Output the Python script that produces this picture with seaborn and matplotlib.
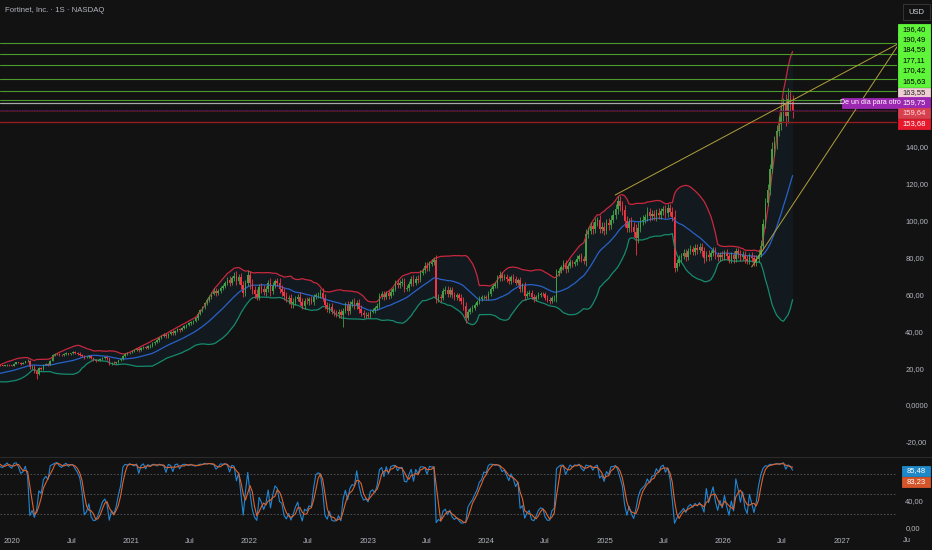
import matplotlib
matplotlib.use("Agg")
import matplotlib.pyplot as plt
import matplotlib.patches as mpatches
import numpy as np
import pandas as pd
import seaborn as sns

# ---- data: weekly closes (USD), weeks starting Monday 2019-04-01 ----
closes_2019 = [17.2, 17.6, 17.9, 18.3, 17.4, 15.8, 15.4, 15.0, 14.9, 15.2,
               15.5, 15.9, 15.4, 15.6, 15.8, 16.0, 16.3, 16.2, 15.8, 15.9,
               16.1, 15.8, 15.6, 15.7, 15.4, 15.3, 15.2, 15.5, 15.9, 17.2,
               20.4, 20.8, 21.3, 21.6, 21.3, 21.2, 21.5, 21.8, 21.5, 21.3]
closes_2020 = [22.4, 23.1, 22.8, 22.3, 23.0, 23.6, 23.9, 20.5, 20.8, 18.5,
               17.0, 20.0, 19.6, 21.8, 22.3, 21.8, 24.0, 27.0, 27.5, 27.8,
               27.3, 27.0, 27.6, 28.0, 27.5, 28.0, 28.6, 28.2, 27.8, 27.2,
               26.6, 25.8, 26.0, 26.5, 25.4, 24.6, 24.0, 24.4, 25.0, 25.6,
               25.8, 25.2, 22.2, 23.0, 22.6, 23.2, 24.2, 25.0, 26.4, 27.6,
               28.2, 28.6]
closes_2021 = [29.2, 29.8, 30.6, 29.6, 30.8, 31.4, 31.0, 31.8, 32.2, 33.4,
               34.0, 35.0, 36.2, 37.4, 38.0, 37.2, 38.6, 39.4, 38.8, 40.2,
               41.0, 40.6, 41.8, 42.6, 43.4, 44.2, 45.0, 45.6, 47.0, 49.6,
               51.4, 53.0, 55.2, 57.0, 58.6, 60.4, 62.0, 60.8, 61.6, 63.4,
               64.6, 66.2, 68.0, 66.4, 68.8, 70.2, 67.0, 69.4, 65.0, 61.0,
               66.0, 70.6]
closes_2022 = [66.0, 62.4, 60.2, 58.6, 64.2, 63.0, 61.2, 62.8, 66.0, 61.6,
               64.8, 67.0, 66.4, 63.0, 61.2, 59.0, 57.4, 57.8, 54.6, 55.8,
               57.6, 58.8, 56.0, 53.6, 56.6, 56.2, 57.4, 56.0, 58.6, 59.4,
               59.8, 60.6, 58.2, 54.0, 51.8, 53.2, 50.6, 49.8, 49.2, 50.2,
               48.6, 51.2, 54.0, 51.0, 54.6, 55.8, 53.6, 55.4, 52.0, 49.8,
               48.6, 48.9]
closes_2023 = [48.2, 50.6, 51.0, 52.6, 53.8, 59.0, 60.2, 58.4, 60.6, 59.2,
               61.4, 63.0, 66.4, 65.0, 66.0, 66.8, 63.0, 63.4, 65.6, 68.4,
               66.2, 68.6, 67.8, 71.8, 73.0, 75.6, 74.2, 76.6, 77.4, 78.6,
               57.4, 58.6, 58.0, 61.8, 62.6, 60.4, 62.2, 59.6, 58.6, 59.4,
               58.2, 56.6, 53.6, 47.4, 50.6, 51.8, 52.8, 54.4, 55.8, 57.6,
               58.4, 58.5]
closes_2024 = [58.0, 60.4, 62.8, 64.6, 65.4, 68.8, 70.6, 69.0, 69.6, 68.4,
               67.2, 69.4, 68.2, 66.4, 67.6, 63.0, 64.8, 59.2, 60.4, 61.0,
               58.8, 57.6, 58.6, 59.8, 60.4, 60.2, 58.2, 57.2, 56.4, 57.8,
               58.2, 71.6, 72.8, 74.6, 76.8, 73.8, 75.6, 77.4, 76.6, 77.4,
               79.4, 80.6, 79.0, 78.2, 92.8, 94.6, 97.0, 95.4, 99.0, 100.2,
               95.6, 96.8, 94.4]
closes_2025 = [98.6, 97.4, 100.6, 103.2, 106.4, 110.4, 108.2, 105.6, 99.6, 96.2,
               99.0, 96.6, 94.0, 90.4, 96.2, 99.4, 100.6, 101.8, 104.8, 102.6,
               103.6, 102.4, 104.2, 102.8, 105.0, 106.2, 104.0, 106.6, 104.8, 102.2,
               74.4, 77.2, 79.6, 81.0, 82.6, 80.4, 83.6, 84.8, 83.2, 85.4,
               84.0, 85.8, 83.4, 79.8, 81.6, 80.2, 82.6, 83.8, 81.4, 80.0,
               81.6, 80.4]
closes_2026 = [82.4, 80.6, 78.8, 81.2, 79.0, 83.4, 82.0, 80.2, 81.6, 79.4,
               78.2, 80.8, 79.6, 77.8, 79.2, 81.6, 86.4, 98.0, 109.6, 116.4,
               127.8, 138.6, 142.4, 148.8, 152.6, 158.4, 163.8, 156.8, 166.2, 164.4,
               159.75]

# weekly wick sizes, % above the body top / below the body bottom
up_wick_pct = [
    1.2, 0.8, 1.5, 0.9, 2.1, 1.0, 0.7, 1.3, 0.9, 1.1, 0.6, 1.4, 1.0, 0.8, 1.2, 0.9, 1.6, 0.7, 1.1, 0.8,
    1.3, 0.9, 1.0, 0.6, 1.2, 0.8, 1.4, 1.1, 0.9, 2.4, 1.8, 1.2, 0.9, 1.5, 1.0, 1.3, 0.8, 1.1, 1.4, 0.9,
    # 2020
    1.4, 1.1, 2.0, 1.3, 1.8, 1.2, 2.6, 1.5, 3.8, 2.9, 4.2, 3.1, 2.4, 1.8, 2.2, 1.6, 2.0, 2.8, 1.9, 1.4,
    2.3, 1.6, 1.2, 2.0, 1.5, 1.3, 2.1, 1.7, 1.4, 2.5, 1.8, 2.2, 1.3, 1.6, 2.4, 1.9, 1.2, 1.7, 1.4, 2.1,
    1.6, 2.8, 1.9, 2.3, 2.6, 1.4, 1.8, 1.5, 2.0, 1.3, 1.7, 1.2,
    # 2021
    1.8, 2.4, 1.6, 3.0, 1.9, 1.5, 2.7, 1.8, 2.2, 1.6, 1.4, 1.9, 1.3, 1.7, 2.1, 2.6, 1.5, 2.0, 2.8, 1.6,
    1.4, 2.2, 1.7, 1.3, 1.5, 1.8, 1.2, 1.6, 2.0, 1.9, 1.5, 1.7, 1.3, 1.6, 1.4, 1.8, 2.1, 2.5, 1.9, 1.6,
    1.8, 1.5, 2.3, 2.9, 2.0, 2.4, 3.2, 2.6, 3.0, 3.6, 2.8, 3.4,
    # 2022
    3.0, 3.8, 3.2, 4.4, 2.6, 3.4, 3.0, 2.7, 2.5, 4.1, 2.8, 2.2, 2.9, 3.6, 3.1, 3.3, 4.0, 3.5, 4.6, 3.8,
    3.0, 2.6, 4.2, 3.9, 2.8, 3.3, 2.5, 3.1, 2.4, 2.7, 2.9, 3.6, 4.5, 3.8, 3.2, 3.5, 4.1, 3.0, 3.4, 3.8,
    4.2, 3.1, 3.9, 4.6, 3.2, 2.8, 3.5, 3.0, 3.7, 4.0, 3.3, 2.9,
    # 2023
    2.6, 2.2, 3.0, 2.4, 2.8, 3.2, 2.5, 2.9, 2.1, 2.6, 2.3, 2.0, 2.2, 2.7, 2.4, 2.9, 3.3, 2.6, 2.2, 2.5,
    2.8, 2.1, 2.4, 2.0, 1.8, 2.3, 2.6, 1.9, 2.2, 2.0, 3.5, 2.8, 3.1, 2.4, 2.9, 3.3, 2.6, 2.8, 3.0, 2.5,
    2.7, 3.2, 3.6, 4.0, 2.9, 2.4, 2.2, 2.0, 1.9, 2.3, 1.8, 2.1,
    # 2024
    1.8, 2.0, 1.6, 1.9, 2.4, 2.2, 2.8, 2.1, 1.9, 2.3, 2.6, 1.8, 2.0, 2.2, 1.9, 2.7, 2.4, 3.0, 2.6, 2.1,
    2.3, 2.0, 1.9, 2.2, 1.8, 1.7, 2.1, 2.4, 2.6, 2.0, 2.2, 3.2, 2.4, 1.9, 2.1, 2.6, 1.8, 2.0, 1.7, 1.9,
    2.3, 1.8, 2.0, 2.5, 2.8, 2.2, 2.4, 2.1, 2.6, 2.0, 2.9, 2.3, 2.5,
    # 2025
    2.4, 2.8, 2.2, 2.6, 2.3, 2.9, 2.5, 2.1, 2.6, 2.9, 2.4, 3.1, 2.7, 4.6, 3.2, 2.5, 2.2, 2.0, 2.4, 2.1,
    1.9, 2.2, 1.8, 2.3, 2.0, 1.7, 2.4, 2.1, 2.2, 2.6, 3.4, 2.6, 2.3, 2.0, 2.4, 2.7, 2.1, 2.3, 2.0, 2.5,
    2.2, 2.4, 2.6, 3.0, 2.3, 2.7, 2.1, 2.4, 2.5, 2.2, 2.0, 2.3,
    # 2026
    2.1, 2.6, 2.3, 2.0, 2.8, 2.4, 2.2, 2.6, 2.1, 2.5, 2.3, 2.0, 2.4, 2.2, 2.6, 2.8, 3.4, 3.0, 2.6, 3.2,
    2.4, 2.8, 2.6, 2.2, 2.9, 2.5, 1.8, 3.1, 2.2, 2.7, 2.4]
down_wick_pct = [
    1.0, 1.3, 0.8, 1.1, 1.6, 2.2, 1.2, 0.9, 1.4, 0.8, 1.1, 0.7, 1.3, 0.9, 1.0, 1.2, 0.8, 1.5, 1.1, 0.9,
    0.7, 1.2, 1.0, 1.4, 0.9, 1.1, 0.8, 1.3, 1.0, 1.2, 1.6, 1.0, 1.3, 0.8, 1.2, 0.9, 1.4, 1.0, 0.7, 1.1,
    # 2020
    1.2, 1.6, 1.0, 1.8, 1.3, 1.1, 1.5, 4.5, 5.2, 6.0, 5.0, 4.0, 3.2, 2.4, 1.8, 2.6, 1.7, 1.5, 2.2, 1.9,
    2.4, 1.7, 2.1, 1.3, 2.0, 1.6, 1.4, 2.3, 1.8, 2.7, 2.2, 3.0, 1.9, 2.4, 2.8, 2.1, 2.6, 1.7, 1.5, 1.9,
    2.5, 2.2, 3.4, 2.0, 2.7, 1.8, 1.6, 1.4, 1.9, 1.7, 1.3, 1.5,
    # 2021
    1.5, 2.0, 1.7, 2.6, 1.8, 2.2, 1.6, 2.9, 2.1, 1.7, 1.9, 1.4, 2.2, 1.6, 1.8, 2.4, 2.0, 1.5, 2.7, 1.9,
    1.6, 2.3, 1.4, 1.8, 1.5, 1.3, 1.7, 1.9, 1.6, 1.8, 1.4, 1.6, 1.9, 1.5, 1.7, 2.0, 1.6, 2.6, 1.8, 1.5,
    1.7, 1.9, 2.1, 2.8, 1.8, 2.2, 3.1, 2.4, 3.6, 4.2, 2.9, 2.5,
    # 2022
    4.6, 3.2, 3.8, 2.9, 3.0, 3.5, 2.8, 3.6, 2.4, 3.9, 2.7, 2.1, 3.0, 3.3, 3.5, 3.1, 2.9, 4.4, 3.2, 3.6,
    2.8, 2.5, 3.4, 3.0, 2.6, 2.9, 3.2, 2.4, 2.7, 2.3, 2.6, 2.9, 3.5, 3.8, 3.1, 3.4, 3.0, 2.8, 3.2, 3.6,
    3.3, 3.0, 2.7, 4.0, 2.9, 2.6, 3.3, 3.1, 3.8, 3.5, 3.0, 2.7,
    # 2023
    2.4, 2.0, 1.8, 2.6, 2.2, 2.0, 2.9, 2.4, 1.9, 2.7, 2.1, 2.5, 1.8, 2.3, 2.0, 2.6, 3.0, 2.2, 2.4, 1.9,
    2.6, 2.1, 2.3, 1.8, 2.0, 1.7, 2.4, 1.9, 1.6, 2.1, 3.2, 2.9, 3.4, 2.3, 2.6, 2.8, 3.1, 2.5, 2.7, 2.9,
    3.3, 3.0, 3.6, 4.2, 3.1, 2.5, 2.2, 2.0, 1.8, 2.1, 1.9, 1.6,
    # 2024
    2.2, 1.8, 2.0, 1.7, 2.1, 2.6, 2.0, 2.4, 1.9, 2.2, 2.5, 2.0, 1.8, 2.3, 2.1, 3.1, 2.4, 3.6, 2.2, 2.0,
    2.4, 2.6, 1.9, 2.1, 1.8, 2.0, 2.3, 2.5, 2.8, 2.2, 2.6, 3.8, 2.2, 2.0, 1.9, 2.8, 2.1, 1.8, 2.0, 1.9,
    2.2, 1.7, 2.1, 2.3, 3.5, 2.4, 2.0, 2.6, 2.1, 1.9, 2.7, 2.4, 2.2,
    # 2025
    2.0, 2.6, 2.2, 1.9, 2.1, 2.4, 2.8, 2.5, 3.0, 2.7, 2.5, 2.9, 3.2, 5.0, 2.8, 2.4, 2.0, 1.8, 2.1, 2.5,
    2.2, 1.9, 2.3, 2.0, 1.8, 2.1, 2.4, 1.9, 2.2, 2.6, 3.0, 2.4, 2.1, 2.3, 2.0, 2.6, 2.2, 1.9, 2.4, 2.1,
    2.5, 2.0, 2.8, 3.2, 2.4, 2.7, 2.2, 2.0, 2.5, 2.3, 2.1, 2.4,
    # 2026
    2.3, 2.0, 2.6, 2.2, 2.4, 1.9, 2.5, 2.3, 2.0, 2.7, 2.4, 2.2, 2.6, 2.8, 2.3, 2.1, 1.6, 1.8, 2.2, 1.5,
    2.0, 1.7, 2.4, 2.6, 1.9, 2.2, 2.8, 3.4, 2.5, 3.0, 2.6]

# notable wicks (extend the weekly wick)
wick_high_dates = ["2020-02-17", "2021-12-27", "2023-07-24", "2025-02-10", "2026-07-20"]
wick_high_vals = [24.8, 73.2, 80.4, 113.4, 172.2]
wick_low_dates = ["2020-03-16", "2022-10-17", "2023-10-30", "2025-04-07", "2026-04-13"]
wick_low_vals = [14.2, 42.3, 44.4, 81.4, 75.4]

# horizontal levels and their labels
green_levels = [196.40, 190.49, 184.59, 177.11, 170.42, 165.63]
gray_level = 163.55
last_price = 159.75
prev_level = 159.64
red_level = 153.68
level_labels = ["196,40", "190,49", "184,59", "177,11", "170,42", "165,63",
                "163,55", "159,75", "159,64", "153,68"]
countdown_text = "De un día para otro"

# trend lines (start date, start price) -> common end
trend_starts = [("2025-02-02", 113.9), ("2026-03-30", 74.9)]
trend_end = ("2027-06-29", 196.40)

stoch_labels = ["85,48", "83,23"]

price_ticks = [-20, 0, 20, 40, 60, 80, 100, 120, 140]
osc_ticks = [0, 40]
osc_levels = [80, 50, 20]
time_ticks = ["2020-01-01", "2020-07-01", "2021-01-01", "2021-07-01", "2022-01-01",
              "2022-07-01", "2023-01-01", "2023-07-01", "2024-01-01", "2024-07-01",
              "2025-01-01", "2025-07-01", "2026-01-01", "2026-07-01", "2027-01-01"]
time_labels = ["2020", "Jul", "2021", "Jul", "2022", "Jul", "2023", "Jul", "2024",
               "Jul", "2025", "Jul", "2026", "Jul", "2027"]

# ---- build frame ----
closes = (closes_2019 + closes_2020 + closes_2021 + closes_2022 + closes_2023
          + closes_2024 + closes_2025 + closes_2026)
dates = pd.date_range("2019-04-01", periods=len(closes), freq="7D")
df = pd.DataFrame({"date": dates, "close": closes,
                   "up_w": up_wick_pct, "dn_w": down_wick_pct})
df["open"] = df["close"].shift(1).fillna(df["close"])
df["high"] = df[["open", "close"]].max(axis=1) * (1 + df["up_w"] / 100)
df["low"] = df[["open", "close"]].min(axis=1) * (1 - df["dn_w"] / 100)
df = df.set_index("date")
for d, v in zip(wick_high_dates, wick_high_vals):
    df.loc[pd.Timestamp(d), "high"] = max(v, df.loc[pd.Timestamp(d), "high"])
for d, v in zip(wick_low_dates, wick_low_vals):
    df.loc[pd.Timestamp(d), "low"] = min(v, df.loc[pd.Timestamp(d), "low"])
df = df.reset_index()

# Bollinger 20, 2
df["mid"] = df["close"].rolling(20).mean()
sd = df["close"].rolling(20).std(ddof=0)
df["upper"] = df["mid"] + 2 * sd
df["lower"] = df["mid"] - 2 * sd

# Stochastic 14, 1, 3
ll = df["low"].rolling(14).min()
hh = df["high"].rolling(14).max()
df["k"] = 100 * (df["close"] - ll) / (hh - ll)
df["d"] = df["k"].rolling(3).mean()

# ---- style ----
BG = "#121212"
TXT = "#b2b5be"
sns.set_theme(style="dark")
plt.rcParams["font.family"] = ["Liberation Sans", "DejaVu Sans"]
plt.rcParams["axes.facecolor"] = BG
plt.rcParams["figure.facecolor"] = BG

W, H = 932, 550
def rect(x0, y0, x1, y1):
    return [x0 / W, 1 - y1 / H, (x1 - x0) / W, (y1 - y0) / H]

fig = plt.figure(figsize=(9.32, 5.5), dpi=100)
ax = fig.add_axes(rect(0, 0, 897, 456))
axo = fig.add_axes(rect(0, 458, 897, 534), sharex=ax)

xlim = (pd.Timestamp("2019-11-24"), pd.Timestamp("2027-06-21"))

# bands
ax.fill_between(df["date"], df["lower"], df["upper"], color="#2196f3", alpha=0.06, lw=0)
sns.lineplot(data=df, x="date", y="upper", ax=ax, color="#c8283f", lw=0.9)
sns.lineplot(data=df, x="date", y="lower", ax=ax, color="#168a6c", lw=0.9)
sns.lineplot(data=df, x="date", y="mid", ax=ax, color="#2962c8", lw=0.9)

# candles
up = df["close"] >= df["open"]
col = np.where(up, "#43a047", "#f23645")
ax.vlines(df["date"], df["low"], df["high"], colors=col, lw=0.6)
body = (df["close"] - df["open"]).abs().clip(lower=0.25)
ax.bar(df["date"], body, bottom=df[["open", "close"]].min(axis=1), width=4.8,
       color=col, lw=0)

# levels
for lv in green_levels:
    ax.axhline(lv, color="#4c9a2a", lw=0.8)
ax.axhline(gray_level, color="#a9a9a9", lw=0.9)
ax.axhline(last_price, color="#7b1f8a", lw=0.6, ls=(0, (1, 1)))
ax.axhline(prev_level, color="#4a1820", lw=0.8)
ax.axhline(red_level, color="#931b1f", lw=1.0)

# trend lines
for sd_, sp in trend_starts:
    ax.plot([pd.Timestamp(sd_), pd.Timestamp(trend_end[0])], [sp, trend_end[1]],
            color="#b3a03a", lw=0.7)

ax.set_xlim(xlim)
ax.set_ylim(-27.7, 219.7)
ax.yaxis.tick_right()
ax.set_yticks(price_ticks)
ax.set_yticklabels(["0,0000" if t == 0 else f"{t:.2f}".replace(".", ",") for t in price_ticks])
ax.tick_params(axis="y", length=0, pad=6, labelsize=5.5, labelcolor=TXT)
ax.tick_params(axis="x", length=0, labelbottom=False)
ax.set_xlabel("")
ax.set_ylabel("")
for s in ax.spines.values():
    s.set_visible(False)

# oscillator
for lv in osc_levels:
    axo.axhline(lv, color="#55585f", lw=0.6, ls=(0, (2, 2)))
sns.lineplot(data=df, x="date", y="k", ax=axo, color="#2186d4", lw=0.8)
sns.lineplot(data=df, x="date", y="d", ax=axo, color="#e0622a", lw=0.8)
axo.set_ylim(-10, 104)
axo.yaxis.tick_right()
axo.set_yticks(osc_ticks)
axo.set_yticklabels(["0,00", "40,00"])
axo.tick_params(axis="y", length=0, pad=6, labelsize=5.5, labelcolor=TXT)
axo.set_xticks([pd.Timestamp(t) for t in time_ticks])
axo.set_xticklabels(time_labels)
axo.tick_params(axis="x", length=0, pad=3, labelsize=5.5, labelcolor=TXT)
axo.set_xlim(xlim)
axo.set_xlabel("")
axo.set_ylabel("")
for s in axo.spines.values():
    s.set_visible(False)

# separator between panes
fig.add_artist(plt.Line2D([0, 1], [1 - 457 / H, 1 - 457 / H], color="#2a2a2a", lw=0.8))

# price labels on the right scale
def tag(x0, y0, x1, y1, fc, text, tc, size=5.5, ec=None):
    fig.add_artist(mpatches.Rectangle((x0 / W, 1 - y1 / H), (x1 - x0) / W, (y1 - y0) / H,
                                      transform=fig.transFigure, fc=fc,
                                      ec=ec if ec else fc, lw=0.6))
    fig.text((x0 + x1) / 2 / W, 1 - (y0 + y1) / 2 / H, text, color=tc, fontsize=size,
             ha="center", va="center")

tag_colors = ["#5ff53a"] * 6 + ["#efcfd5", "#9c27b0", "#d8404f", "#e8192c"]
tag_text = ["#000000"] * 6 + ["#222222", "#ffffff", "#ffe0e0", "#ffffff"]
tag_y = [24, 34, 44.5, 55, 65.5, 76, 87.5, 97.5, 107.5, 118.5]
for lab, fc, tc, y0 in zip(level_labels, tag_colors, tag_text, tag_y):
    tag(898, y0, 930, y0 + 10.5, fc, lab, tc)
tag(842, 97.5, 898, 107.5, "#9c27b0", countdown_text, "#ffffff", size=5)
tag(903, 4, 930, 20, BG, "USD", "#d1d4dc", size=5.5, ec="#3a3a3a")

tag(902, 466, 930, 475.5, "#1e88c8", stoch_labels[0], "#ffffff")
tag(902, 477, 930, 486.5, "#d4552a", stoch_labels[1], "#ffffff")

fig.text(5 / W, 1 - 10 / H, "Fortinet, Inc. · 1S · NASDAQ", color=TXT, fontsize=5.6,
         ha="left", va="center")
fig.text(903 / W, 1 - 541 / H, "Ju", color=TXT, fontsize=5.5, ha="left", va="center")

fig.savefig("out.png", dpi=100, facecolor=BG)
